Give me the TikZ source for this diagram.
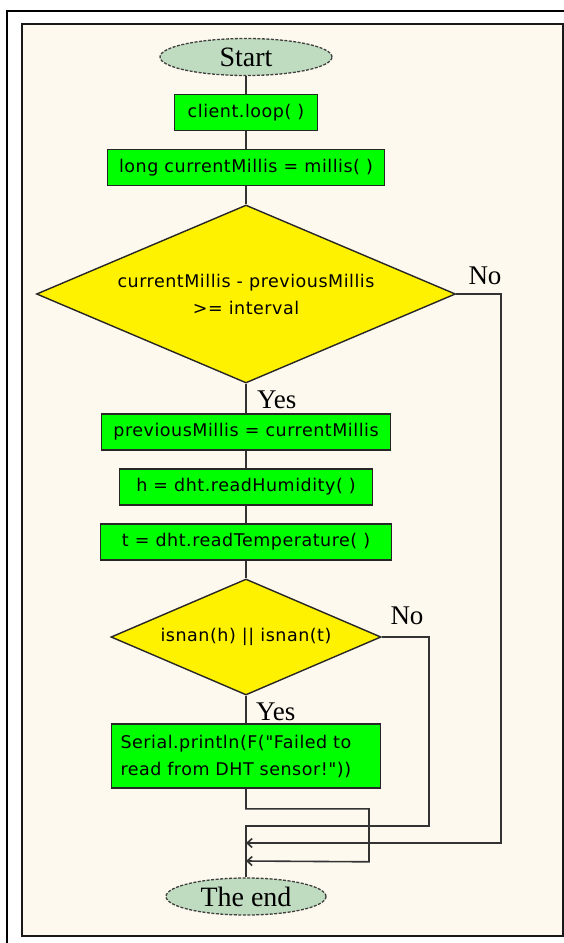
\documentclass[tikz,border=0pt]{standalone}
\usepackage{fontspec}
\setmainfont{Liberation Serif}
\newfontfamily\boxfont[LetterSpace=3]{DejaVu Sans}
\usepackage{xcolor}
\usetikzlibrary{shapes.geometric,arrows.meta}

\definecolor{paper}{HTML}{FEF9EE}
\definecolor{procgreen}{HTML}{00FF00}
\definecolor{termgray}{HTML}{C0DCC0}

\tikzset{
    proc/.style={draw=black!85, line width=1.6pt, fill=procgreen, inner sep=0pt,
        minimum height=36pt, font=\boxfont\fontsize{17.5}{27}\selectfont},
    decide/.style={diamond, draw=black!85, line width=1.4pt, fill=yellow, inner sep=0pt,
        align=center, font=\boxfont\fontsize{17.5}{27}\selectfont},
    term/.style={ellipse, draw=black!75, dash pattern=on 3pt off 1.5pt, line width=1.3pt, fill=termgray,
        inner sep=0pt, minimum height=37pt, font=\fontsize{28}{30}\selectfont},
    lbl/.style={inner sep=0pt, font=\fontsize{27}{30}\selectfont},
    flow/.style={line width=1.6pt, draw=black!80}
}

\begin{document}
\begin{tikzpicture}[x=1pt, y=-1pt, >={Straight Barb[length=5pt,width=9pt]}]
    \useasboundingbox (0,0) rectangle (564,943);
    \draw[line width=1.2pt] (7,943) -- (7,11) -- (564,11);
    \draw[line width=2.5pt, draw=black!90, fill=paper] (22,24) rectangle (563,936);

    \node[term, minimum width=172pt] (start) at (246,57) {Start};
    \node[proc, minimum width=143pt] (loop) at (246,112.5) {client.loop( )};
    \node[proc, minimum width=277pt] (now) at (246,167.5) {long currentMillis = millis( )};
    \node[decide, minimum width=419pt, minimum height=178pt, aspect=2.35] (check) at (246,294)
        {currentMillis - previousMillis\\>= interval};
    \node[proc, minimum width=289pt] (prev) at (246,432) {previousMillis = currentMillis};
    \node[proc, minimum width=253pt] (hum) at (246,487) {h = dht.readHumidity( )};
    \node[proc, minimum width=291pt] (temp) at (246,542) {t = dht.readTemperature( )};
    \node[decide, minimum width=270pt, minimum height=116pt, aspect=2.33] (nan) at (246,637)
        {isnan(h) || isnan(t)};
    \node[proc, minimum width=269pt, minimum height=64pt, text width=251pt, align=left] (fail) at (246,756)
        {Serial.println(F("Failed to\\read from DHT sensor!"))};
    \node[term, minimum width=160pt] (stop) at (246,896.5) {The end};

    \coordinate (join1) at (246,826);
    \coordinate (join2) at (246,843);
    \coordinate (join3) at (246,861);

    \draw[flow] (start) -- (loop);
    \draw[flow] (loop) -- (now);
    \draw[flow] (now) -- (check);
    \draw[flow] (check) -- (prev);
    \node[lbl, anchor=west] (yes1) at (257,400) {Yes};
    \draw[flow] (prev) -- (hum);
    \draw[flow] (hum) -- (temp);
    \draw[flow] (temp) -- (nan);
    \draw[flow] (nan) -- (fail);
    \node[lbl, anchor=west] (yes2) at (256,712) {Yes};

    \draw[flow, ->] (check.east) -- ++(45,0) |- (join2);
    \node[lbl] (no1) at (485,276) {No};
    \draw[flow] (nan.east) -- ++(47,0) |- (join1) -- (stop);
    \node[lbl] (no2) at (407,616) {No};
    \draw[flow, ->] (fail.south) -- ++(0,20) -| ++(123,53) -- (join3);
\end{tikzpicture}
\end{document}
